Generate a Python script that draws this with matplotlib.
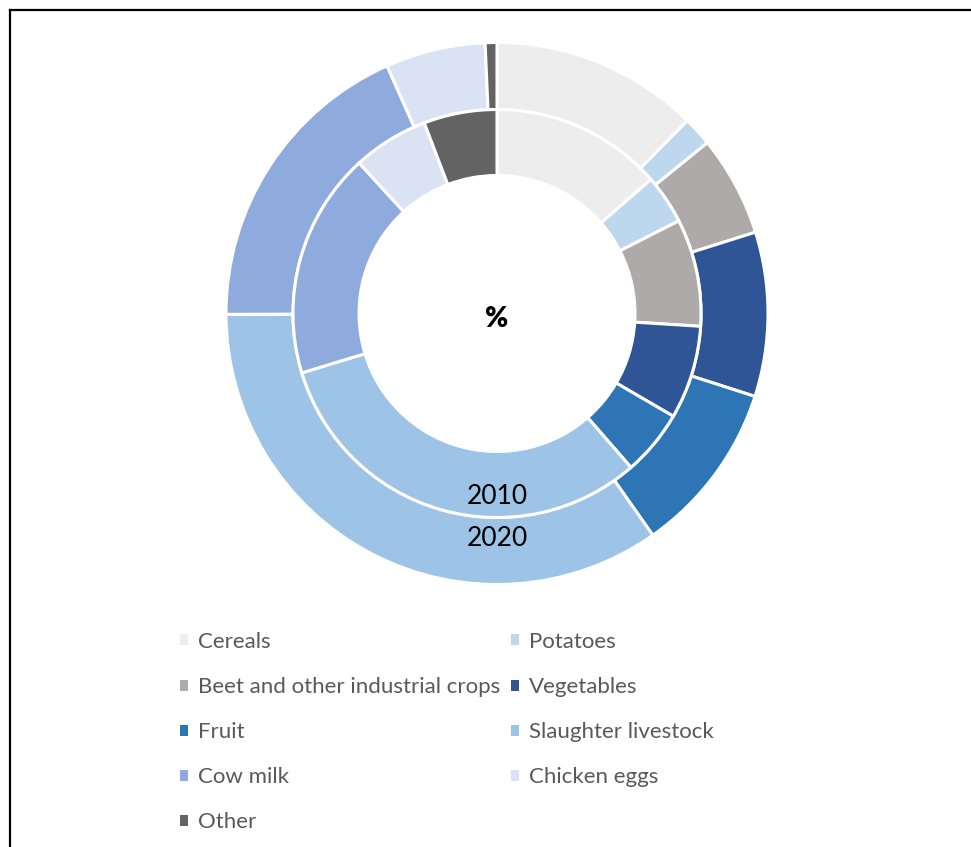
import matplotlib.pyplot as plt
from matplotlib.lines import Line2D
from matplotlib.patches import Patch

# Share of gross agricultural output by product, %
categories = ['Cereals', 'Potatoes', 'Beet and other industrial crops', 'Vegetables',
              'Fruit', 'Slaughter livestock', 'Cow milk', 'Chicken eggs', 'Other']
share_2010 = [13.6, 3.9, 8.5, 7.4, 5.2, 31.7, 17.9, 6.0, 5.8]
share_2020 = [12.4, 1.75, 6.0, 9.8, 10.3, 34.7, 18.4, 5.95, 0.7]
colors = ['#EDEDED', '#BDD7EE', '#AEAAAA', '#2F5597', '#2E75B6',
          '#9DC3E6', '#8FAADC', '#DAE3F3', '#636363']

W, H = 971, 847
fig = plt.figure(figsize=(W / 100, H / 100), dpi=100)

# donut centre and outer radius in pixels
cx, cy, R = 497, 313.5, 271
ax = fig.add_axes([(cx - R) / W, (H - cy - R) / H, 2 * R / W, 2 * R / H])

wp = dict(edgecolor='white', linewidth=2.2)
ax.pie(share_2020, radius=1.0, colors=colors, startangle=90, counterclock=False,
       wedgeprops=dict(width=67 / R, **wp))
ax.pie(share_2010, radius=204 / R, colors=colors, startangle=90, counterclock=False,
       wedgeprops=dict(width=66 / R, **wp))
ax.set_xlim(-1, 1)
ax.set_ylim(-1, 1)
ax.set_aspect('auto')

font = ['Lato', 'DejaVu Sans']
ax.text(0, -6 / R, '%', ha='center', va='center', fontsize=20, fontweight='heavy',
        family=font)
ax.text(0, -(497 - cy) / R, '2010', ha='center', va='center', fontsize=19, family=font)
ax.text(0, -(539 - cy) / R, '2020', ha='center', va='center', fontsize=19, family=font)

# legend laid out row by row, two columns
order = [0, 2, 4, 6, 8, 1, 3, 5, 7]
handles = [Patch(facecolor=colors[i], edgecolor='none') for i in order]
labels = [categories[i] for i in order]
leg = fig.legend(handles, labels, ncol=2, loc='upper left',
                 bbox_to_anchor=(171 / W, 1 - 623 / H), frameon=False,
                 prop=dict(family=font, size=16), labelcolor='#595959',
                 handlelength=0.38, handleheight=0.38, handletextpad=0.45,
                 columnspacing=0.45, labelspacing=1.13, borderaxespad=0)

# chart border on the left and top
fig.add_artist(Line2D([10 / W, 10 / W], [0, 1 - 10 / H], color='black', lw=1.6))
fig.add_artist(Line2D([10 / W, 1], [1 - 10 / H, 1 - 10 / H], color='black', lw=1.6))

fig.savefig('out.png', dpi=100, facecolor='white')
